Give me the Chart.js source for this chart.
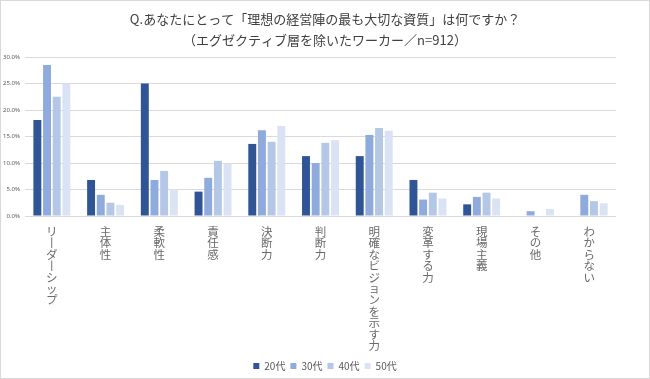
<!DOCTYPE html>
<html>
<head>
<meta charset="utf-8">
<script src="https://cdn.jsdelivr.net/npm/chart.js@4/dist/chart.umd.min.js"></script>
<style>
  html, body { margin: 0; padding: 0; background: #fff; }
  #wrap { position: relative; width: 650px; height: 379px; }
  #frame { position: absolute; left: 0; top: 0; width: 650px; height: 379px; box-sizing: border-box; border: 1px solid #d9d9d9; pointer-events: none; }
  canvas { display: block; }
</style>
</head>
<body>
<div id="wrap"><canvas id="c" width="650" height="379"></canvas><div id="frame"></div></div>
<script>
const categories = ["リーダーシップ", "主体性", "柔軟性", "責任感", "決断力", "判断力", "明確なビジョンを示す力", "変革する力", "現場主義", "その他", "わからない"];
const seriesNames = ["20代", "30代", "40代", "50代"];
const values20 = [18.1, 6.8, 25.0, 4.6, 13.6, 11.3, 11.3, 6.8, 2.2, 0, 0];
const values30 = [28.5, 4.0, 6.8, 7.2, 16.2, 10.0, 15.3, 3.1, 3.6, 0.9, 4.0];
const values40 = [22.5, 2.5, 8.5, 10.4, 14.0, 13.8, 16.6, 4.4, 4.4, 0, 2.8];
const values50 = [25.0, 2.1, 5.1, 9.8, 17.0, 14.3, 16.1, 3.3, 3.3, 1.3, 2.4];
const yTicks = [0, 5, 10, 15, 20, 25, 30];
const titleLines = ["Q.あなたにとって「理想の経営陣の最も大切な資質」は何ですか？", "（エグゼクティブ層を除いたワーカー／n=912）"];

const colors = ["#2F5597", "#8FAADC", "#B4C7E7", "#DAE3F3"];
const allValues = [values20, values30, values40, values50];
const JP = "'Noto Sans CJK JP', 'Noto Sans', sans-serif";

new Chart(document.getElementById('c'), {
  type: 'bar',
  data: {
    labels: categories,
    datasets: seriesNames.map((n, i) => ({
      label: n,
      data: allValues[i],
      backgroundColor: colors[i],
      borderWidth: 0,
      barPercentage: 0.82,
      categoryPercentage: 0.72
    }))
  },
  options: {
    responsive: false,
    animation: false,
    layout: { padding: { left: 1, right: 1, top: 0, bottom: -2 } },
    plugins: {
      title: {
        display: true,
        text: titleLines,
        color: '#404040',
        font: { family: JP, size: 13, weight: 'normal', lineHeight: '21px' },
        padding: { top: 9, bottom: 6 }
      },
      legend: {
        position: 'bottom',
        labels: {
          boxWidth: 6, boxHeight: 6,
          color: '#595959',
          padding: 5,
          font: { family: JP, size: 10 }
        }
      },
      tooltip: { enabled: false }
    },
    scales: {
      x: {
        grid: { display: false, drawTicks: false },
        border: { display: false },
        ticks: {
          autoSkip: false, maxRotation: 0, minRotation: 0,
          color: '#6a6a6a',
          padding: 10,
          font: { family: JP, size: 11.5, lineHeight: '11.4px' },
          callback: function(v, i) {
            return categories[i].split('').map(c => c === 'ー' ? '丨' : c);
          }
        },
        afterFit: function(s) { s.height = 140; }
      },
      y: {
        min: 0, max: 30,
        afterBuildTicks: function(s) { s.ticks = yTicks.map(v => ({ value: v })); },
        grid: { color: '#D9D9D9', drawTicks: false, lineWidth: 1 },
        border: { display: false },
        ticks: {
          color: '#595959',
          padding: 5,
          font: { family: "'Noto Sans', sans-serif", size: 6 },
          callback: v => v.toFixed(1) + '%'
        },
        afterFit: function(s) { s.width = 24; }
      },
      yRight: {
        position: 'right',
        display: true,
        min: 0, max: 30,
        grid: { display: false, drawTicks: false },
        border: { display: false },
        ticks: { display: false },
        afterFit: function(s) { s.width = 33; }
      }
    }
  }
});
</script>
</body>
</html>
